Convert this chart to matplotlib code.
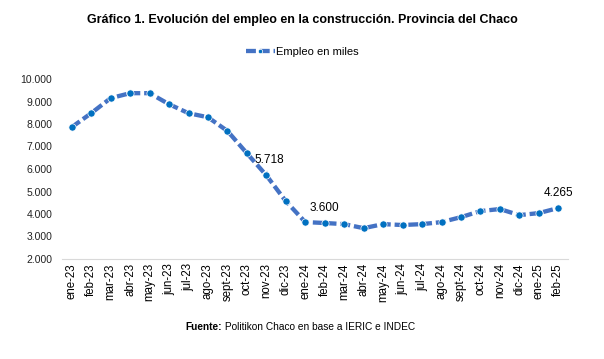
import matplotlib.pyplot as plt
import matplotlib.ticker as mticker
from matplotlib import font_manager
import numpy as np

plt.rcParams["font.family"] = ["Liberation Sans", "DejaVu Sans"]

meses = ["ene-23", "feb-23", "mar-23", "abr-23", "may-23", "jun-23", "jul-23",
         "ago-23", "sept-23", "oct-23", "nov-23", "dic-23", "ene-24", "feb-24",
         "mar-24", "abr-24", "may-24", "jun-24", "jul-24", "ago-24", "sept-24",
         "oct-24", "nov-24", "dic-24", "ene-25", "feb-25"]
empleo = [7860, 8480, 9150, 9370, 9370, 8880, 8480, 8300, 7690, 6700,
          5718, 4570, 3640, 3600, 3550, 3370, 3550, 3510, 3550, 3640,
          3860, 4130, 4220, 3950, 4040, 4265]
etiquetas = {10: "5.718", 13: "3.600", 25: "4.265"}

nombres = {f.name for f in font_manager.fontManager.ttflist}
angosta = "Liberation Sans Narrow" if "Liberation Sans Narrow" in nombres else "Liberation Sans"
esc = 1.0 if angosta == "Liberation Sans Narrow" else 0.82

fig = plt.figure(figsize=(6.04, 3.59), dpi=100)
ax = fig.add_axes([62/604, 1-259/359, 506/604, 180/359])

x = np.arange(len(meses))
ax.plot(x, empleo, color="#4472C4", lw=3.1, ls=(0, (2.3, 0.9)),
        marker="o", ms=5.2, mfc="#0070C0", mec="white", mew=0.5, label="Empleo en miles",
        dash_capstyle="butt")

ax.set_xlim(-0.5, len(meses)-0.5)
ax.set_ylim(2000, 10000)
ax.set_yticks(np.arange(2000, 10001, 1000))
ax.yaxis.set_major_formatter(mticker.FuncFormatter(lambda v, p: f"{int(v):,}".replace(",", ".")))
ax.set_xticks(x)
ax.set_xticklabels(meses, rotation=90, fontsize=8.3)
ax.tick_params(axis="y", labelsize=7.5, length=0, pad=7, labelcolor="#222222")
ax.tick_params(axis="x", length=0, pad=3)
for s in ["top", "right", "left"]:
    ax.spines[s].set_visible(False)
ax.spines["bottom"].set_color("#d9d9d9")

for i, t in etiquetas.items():
    if i == 10:
        ax.annotate(t, (i, empleo[i]), xytext=(i+0.15, empleo[i]+700), ha="center",
                    va="center", fontsize=8.5,
                    arrowprops=dict(arrowstyle="-", color="#a6a6a6", lw=0.6, shrinkA=2, shrinkB=3))
    else:
        ax.text(i, empleo[i]+650, t, ha="center", va="center", fontsize=8.5)

fig.text(0.5, 1-20/359, "Gráfico 1. Evolución del empleo en la construcción. Provincia del Chaco",
         ha="center", va="center", fontsize=11*esc, fontweight="bold", family=angosta)
ax.legend(loc="center", bbox_to_anchor=(302/604, 1-52/359), bbox_transform=fig.transFigure,
          frameon=False, fontsize=8, handlelength=2.6, handletextpad=0.1, markerscale=0.6)

t1 = fig.text(0.5, 1-327/359, "Fuente:", ha="right", va="center", fontsize=8.9*esc,
              fontweight="bold", family=angosta)
t2 = fig.text(0.5, 1-327/359, " Politikon Chaco en base a IERIC e INDEC", ha="left",
              va="center", fontsize=8.9*esc, family=angosta)
fig.canvas.draw()
r = fig.canvas.get_renderer()
w1 = t1.get_window_extent(r).width
w2 = t2.get_window_extent(r).width
cx = 300 - (w1 + w2) / 2
t1.set_x((cx + w1) / 604)
t2.set_x((cx + w1) / 604)

fig.savefig("out.png", dpi=100)
